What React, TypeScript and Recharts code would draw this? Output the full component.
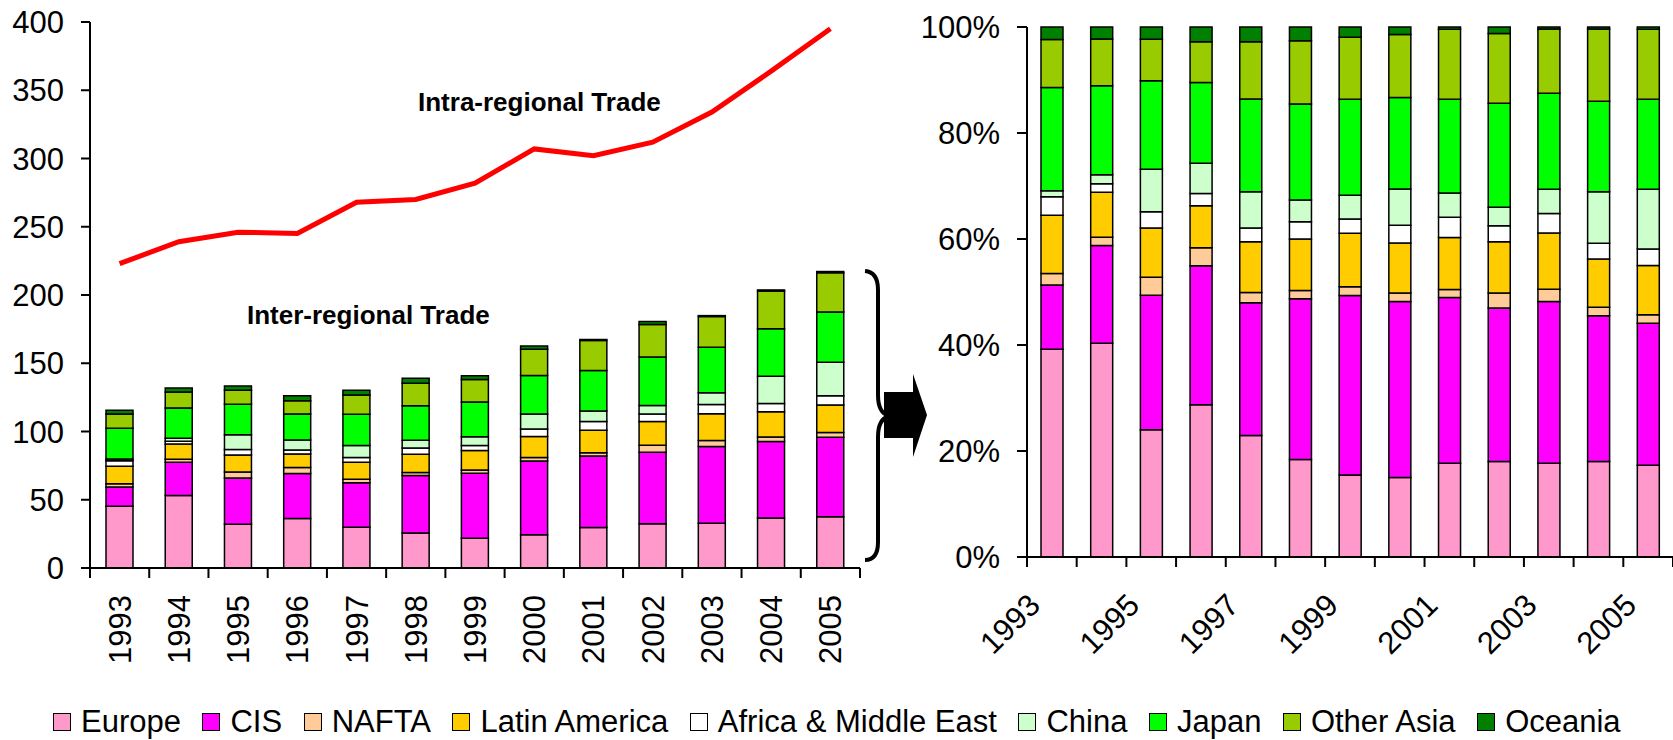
import React from "react";
import { ComposedChart, BarChart, Bar, Line, XAxis, YAxis } from "recharts";

const YEARS = ["1993", "1994", "1995", "1996", "1997", "1998", "1999", "2000", "2001", "2002", "2003", "2004", "2005"];

const REGIONS = ["Europe", "CIS", "NAFTA", "Latin America", "Africa & Middle East", "China", "Japan", "Other Asia", "Oceania"];
const COLORS = ["#FF99CC", "#FF00FF", "#FFCC99", "#FFCC00", "#FFFFFF", "#CCFFCC", "#00FF00", "#99CC00", "#008000"];

// inter-regional trade by partner region
const EUROPE = [45.3, 53.2, 32.0, 36.2, 29.9, 25.6, 21.8, 24.4, 29.6, 32.5, 32.7, 36.7, 37.6];
const CIS = [14.0, 24.3, 33.9, 33.1, 32.6, 42.1, 47.7, 54.0, 52.4, 52.3, 56.4, 56.0, 58.2];
const NAFTA = [2.5, 2.1, 4.5, 4.3, 2.5, 2.2, 2.3, 2.6, 2.5, 5.1, 4.3, 3.3, 3.5];
const LATIN = [12.7, 11.2, 12.4, 10.0, 12.5, 13.5, 14.2, 15.3, 16.4, 17.5, 19.6, 18.5, 20.2];
const AFRICA_ME = [4.0, 2.1, 4.1, 2.9, 3.4, 4.5, 3.8, 5.5, 6.4, 5.4, 6.8, 6.1, 6.7];
const CHINA = [1.3, 2.2, 10.7, 7.2, 8.9, 5.7, 6.3, 11.1, 7.7, 6.3, 8.5, 19.8, 24.5];
const JAPAN = [22.5, 22.2, 22.3, 19.2, 22.8, 25.2, 25.5, 28.1, 29.6, 35.4, 33.5, 34.8, 36.9];
const OTHER_ASIA = [10.5, 11.6, 10.4, 9.7, 14.1, 16.6, 16.5, 19.3, 22.1, 23.8, 22.4, 27.7, 28.7];
const OCEANIA = [2.7, 3.0, 3.1, 3.5, 3.6, 3.6, 2.7, 2.3, 0.7, 2.2, 0.7, 0.8, 0.9];

const INTRA = [223, 239, 246, 245, 268, 270, 282, 307, 302, 312, 334, 364, 395];

const LEFT_TICKS = [0, 50, 100, 150, 200, 250, 300, 350, 400];
const RIGHT_TICKS = [0, 0.2, 0.4, 0.6, 0.8, 1];

const SERIES = [EUROPE, CIS, NAFTA, LATIN, AFRICA_ME, CHINA, JAPAN, OTHER_ASIA, OCEANIA];

const data = YEARS.map((year, i) => {
  const row: Record<string, number | string> = { year, intra: INTRA[i] };
  SERIES.forEach((s, k) => (row["k" + k] = s[i]));
  return row;
});

const FONT = '"Liberation Sans", Arial, sans-serif';
const BAND_L = (860 - 90) / YEARS.length;
const BAND_R = (1673 - 1027) / YEARS.length;

function LeftTick(props: any) {
  const { x, y, payload, index } = props;
  const h = BAND_L / 2;
  return (
    <g>
      <line x1={x - h} x2={x - h} y1={y} y2={y + 10} stroke="#000" strokeWidth={2} />
      {index === YEARS.length - 1 && <line x1={x + h} x2={x + h} y1={y} y2={y + 10} stroke="#000" strokeWidth={2} />}
      <text
        x={x + 11}
        y={y + 27}
        transform={`rotate(-90 ${x + 11} ${y + 27})`}
        textAnchor="end"
        fontSize={31}
        fontFamily={FONT}
        fill="#000"
      >
        {payload.value}
      </text>
    </g>
  );
}

function RightTick(props: any) {
  const { x, y, payload, index } = props;
  const h = BAND_R / 2;
  const ax = x - 10;
  const ay = y + 50;
  return (
    <g>
      <line x1={x - h} x2={x - h} y1={y} y2={y + 10} stroke="#000" strokeWidth={2} />
      {index === YEARS.length - 1 && <line x1={x + h} x2={x + h} y1={y} y2={y + 10} stroke="#000" strokeWidth={2} />}
      {index % 2 === 0 && (
        <text x={ax} y={ay} transform={`rotate(-45 ${ax} ${ay})`} textAnchor="end" fontSize={31} fontFamily={FONT} fill="#000">
          {payload.value}
        </text>
      )}
    </g>
  );
}

const tickStyle = { fill: "#000", fontSize: 31, fontFamily: FONT };
const axisLine = { stroke: "#000", strokeWidth: 2 };

export default function App() {
  return (
    <div style={{ position: "absolute", left: 0, top: 0, width: 1673, height: 740, background: "#fff", overflow: "hidden" }}>
      <div style={{ position: "absolute", left: 0, top: 0 }}>
        <ComposedChart width={880} height={700} data={data} margin={{ top: 22, right: 20, bottom: 0, left: 0 }}>
          <XAxis
            dataKey="year"
            height={132}
            interval={0}
            tickSize={0}
            tickMargin={0}
            axisLine={axisLine}
            tickLine={false}
            tick={<LeftTick />}
          />
          <YAxis
            width={90}
            domain={[0, 400]}
            ticks={LEFT_TICKS}
            tickSize={9}
            tickMargin={17}
            axisLine={axisLine}
            tickLine={axisLine}
            tick={tickStyle}
          />
          {REGIONS.map((r, k) => (
            <Bar key={r} name={r} dataKey={"k" + k} stackId="a" barSize={27} fill={COLORS[k]} stroke="#000" strokeWidth={1.5} isAnimationActive={false} />
          ))}
          <Line type="linear" dataKey="intra" stroke="#FF0000" strokeWidth={5} dot={false} isAnimationActive={false} />
        </ComposedChart>
      </div>

      <div style={{ position: "absolute", left: 900, top: 0 }}>
        <BarChart width={773} height={700} data={data} stackOffset="expand" margin={{ top: 27, right: 0, bottom: 0, left: 0 }}>
          <XAxis
            dataKey="year"
            height={143}
            interval={0}
            tickSize={0}
            tickMargin={0}
            axisLine={axisLine}
            tickLine={false}
            tick={<RightTick />}
          />
          <YAxis
            width={127}
            domain={[0, 1]}
            ticks={RIGHT_TICKS}
            tickFormatter={(v: number) => Math.round(v * 100) + "%"}
            tickSize={10}
            tickMargin={17}
            axisLine={axisLine}
            tickLine={axisLine}
            tick={tickStyle}
          />
          {REGIONS.map((r, k) => (
            <Bar key={r} name={r} dataKey={"k" + k} stackId="a" barSize={22} fill={COLORS[k]} stroke="#000" strokeWidth={1.5} isAnimationActive={false} />
          ))}
        </BarChart>
      </div>

      <svg width={1673} height={740} style={{ position: "absolute", left: 0, top: 0, pointerEvents: "none" }}>
        <text x={418} y={111} fontSize={26} fontWeight="bold" fontFamily={FONT} fill="#000">
          Intra-regional Trade
        </text>
        <text x={247} y={324} fontSize={26} fontWeight="bold" fontFamily={FONT} fill="#000">
          Inter-regional Trade
        </text>
        <path
          d="M 865 271 Q 878 272 878 290 L 878 395 Q 878 413 889 416 Q 878 419 878 437 L 878 542 Q 878 560 865 560"
          fill="none"
          stroke="#000"
          strokeWidth={4}
        />
        <polygon points="884,392 913,392 913,374 927,415 913,457 913,438 884,438" fill="#000" />
      </svg>

      <div
        style={{
          position: "absolute",
          left: 53,
          top: 704,
          height: 36,
          display: "flex",
          alignItems: "center",
          gap: 21.5,
          fontFamily: FONT,
          fontSize: 31,
          color: "#000",
          whiteSpace: "nowrap",
        }}
      >
        {REGIONS.map((r, k) => (
          <div key={r} style={{ display: "flex", alignItems: "center" }}>
            <span
              style={{
                display: "inline-block",
                width: 16,
                height: 16,
                background: COLORS[k],
                border: "1.5px solid #000",
                marginRight: 10,
              }}
            />
            <span>{r}</span>
          </div>
        ))}
      </div>
    </div>
  );
}
